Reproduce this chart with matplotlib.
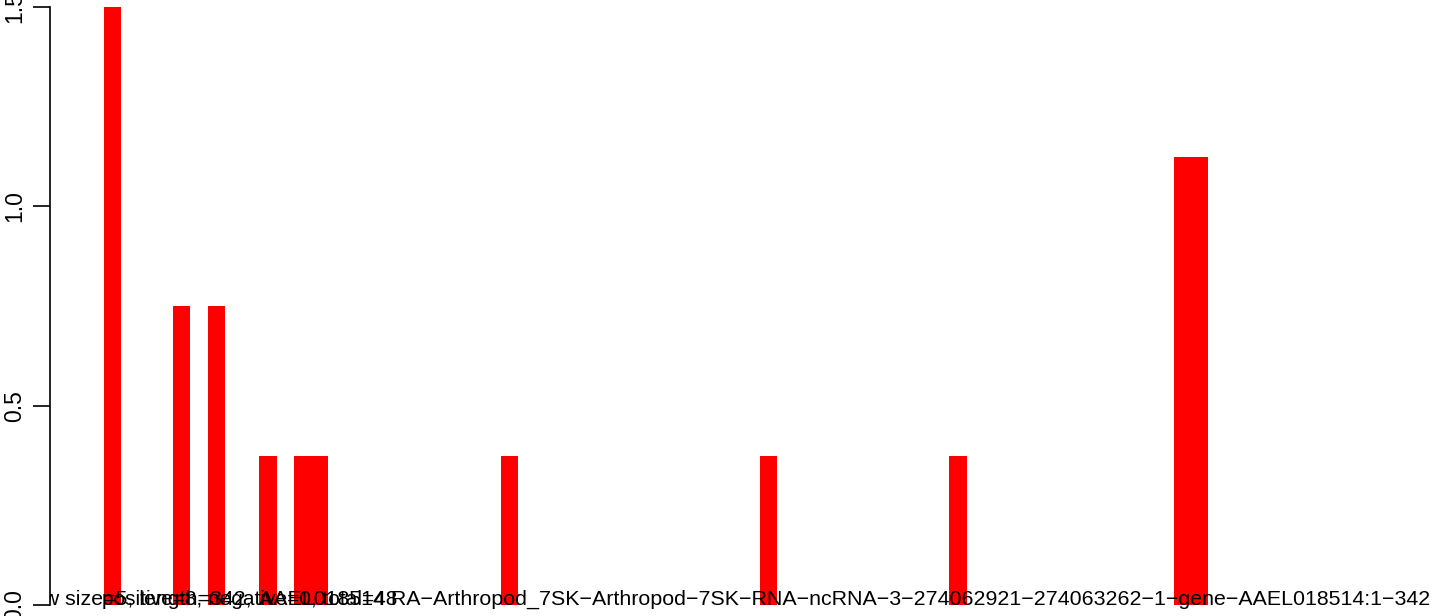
import matplotlib
matplotlib.use("Agg")
import matplotlib.pyplot as plt
from matplotlib.transforms import Bbox, TransformedBbox

# bar positions (bin index) and heights
positions = [0, 4, 6, 9, 11, 12, 23, 38, 49, 62, 63]
heights = [1.5, 0.75, 0.75, 0.375, 0.375, 0.375, 0.375, 0.375, 0.375, 1.125, 1.125]
yticks = [0.0, 0.5, 1.0, 1.5]
ytick_labels = ['0.0', '0.5', '1.0', '1.5']

label_window = 'window size=5, length=342,'
label_counts = 'positive=8, negative=0, total=48'
label_gene = ('AAEL018514 RA\u2212Arthropod_7SK\u2212Arthropod\u22127SK\u2212RNA'
              '\u2212ncRNA\u22123\u2212274062921\u2212274063262\u22121\u2212gene\u2212AAEL018514:1\u2212342')

plt.rcParams['font.family'] = ['Liberation Sans', 'DejaVu Sans']

W, H = 1444, 616
fig = plt.figure(figsize=(W / 100, H / 100), dpi=100)
ax = fig.add_axes([50 / W, 11 / H, (W - 50) / W, 598 / H])

ax.bar(positions, heights, width=1.0, align='edge', color='red', linewidth=0)

ax.set_xlim(-54 / 17.25, -54 / 17.25 + (W - 50) / 17.25)
ax.set_ylim(0, 1.5)

for s in ['top', 'right', 'bottom']:
    ax.spines[s].set_visible(False)
ax.spines['left'].set_linewidth(1.2)
ax.set_xticks([])
ax.set_yticks(yticks)
ax.set_yticklabels(ytick_labels, rotation=90, va='center', fontsize=16.5)
ax.tick_params(axis='y', length=12, width=1.2, pad=5)

fs = 15.4
clip = TransformedBbox(Bbox([[50 / W, 0], [1, 1]]), fig.transFigure)
texts = [
    fig.text(252 / W, 11 / H, label_window, ha='right', va='baseline', fontsize=fs, color='black'),
    fig.text(102 / W, 11 / H, label_counts, ha='left', va='baseline', fontsize=15, color='black'),
    fig.text(1430 / W, 11 / H, label_gene, ha='right', va='baseline', fontsize=fs, color='black'),
]
for t in texts:
    t.set_clip_box(clip)
    t.set_clip_on(True)

fig.savefig('out.png', dpi=100)
